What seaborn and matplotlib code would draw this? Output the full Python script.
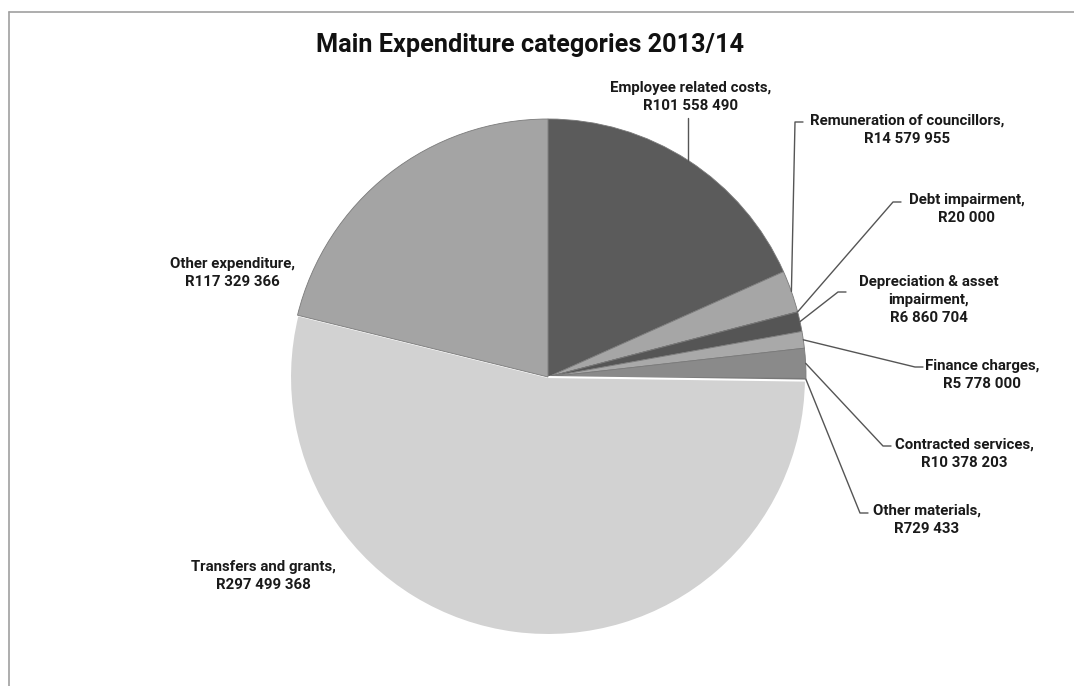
import numpy as np
import matplotlib
matplotlib.use("Agg")
import matplotlib.pyplot as plt
import seaborn as sns

sns.set_theme(style="white")
plt.rcParams['font.family'] = ['Roboto', 'DejaVu Sans']

# ---- data ----
categories = ["Employee related costs", "Remuneration of councillors", "Debt impairment",
              "Depreciation & asset\nimpairment", "Finance charges", "Contracted services",
              "Other materials", "Transfers and grants", "Other expenditure"]
values = [101558490, 14579955, 20000, 6860704, 5778000, 10378203, 729433, 297499368, 117329366]
value_labels = ["R101 558 490", "R14 579 955", "R20 000", "R6 860 704", "R5 778 000",
                "R10 378 203", "R729 433", "R297 499 368", "R117 329 366"]
title = "Main Expenditure categories 2013/14"

colors = ["#5b5b5b", "#a6a6a6", "#3f3f3f", "#555555", "#a9a9a9", "#8a8a8a",
          "#6e6e6e", "#d2d2d2", "#a4a4a4"]
explode = [0, 0, 0, 0, 0, 0, 0, 0.025, 0]

W, H = 1074, 686
fig = plt.figure(figsize=(W / 100, H / 100), dpi=100)
fig.patch.set_facecolor("white")
ax = fig.add_axes([0, 0, 1, 1])

cx, cy, R = 548, H - 377, 258
wedges, _ = ax.pie(values, colors=colors, startangle=90, counterclock=False,
                   center=(cx, cy), radius=R, explode=explode,
                   wedgeprops=dict(edgecolor="#7a7a7a", linewidth=0.6))
wedges[7].set_edgecolor("white")
wedges[7].set_linewidth(1.5)

ax.set_xlim(0, W)
ax.set_ylim(0, H)
ax.set_aspect("equal")
ax.axis("off")

# label layout (pixel coords from top-left): text center, leader elbow point
layout = [
    (691, 97, None),
    (907, 130, (795, 122)),
    (967, 209, (893, 202)),
    (929, 300, (838, 292)),
    (982, 375, (915, 367)),
    (964, 454, (883, 446)),
    (927, 520, (860, 513)),
    (263, 576, None),
    (232, 273, None),
]

fs = 10.8
for i, (w, (tx, ty, elbow)) in enumerate(zip(wedges, layout)):
    ax.text(tx, H - ty, f"{categories[i]},\n{value_labels[i]}", ha="center", va="center",
            fontsize=fs, fontweight="bold", color="#1a1a1a", linespacing=1.4)
    mid = np.deg2rad((w.theta1 + w.theta2) / 2)
    ex, ey = w.center[0] + R * np.cos(mid), w.center[1] + R * np.sin(mid)
    if i == 0:
        ax.plot([ex, ex], [ey, H - 118], color="#555555", lw=1)
    elif elbow is not None:
        bx, by = elbow
        ax.plot([ex, bx, bx + 8], [ey, H - by, H - by], color="#555555", lw=1)

ax.text(530, H - 45, title, ha="center", va="center", fontsize=18.2, fontweight="bold",
        color="#111111")

# frame lines (top and left)
fig.add_artist(plt.Line2D([9 / W, 1], [1 - 12 / H, 1 - 12 / H], transform=fig.transFigure,
                          color="#a0a0a0", lw=1.2))
fig.add_artist(plt.Line2D([9 / W, 9 / W], [0, 1 - 12 / H], transform=fig.transFigure,
                          color="#a0a0a0", lw=1.2))

fig.savefig("out.png", dpi=100, facecolor="white")
